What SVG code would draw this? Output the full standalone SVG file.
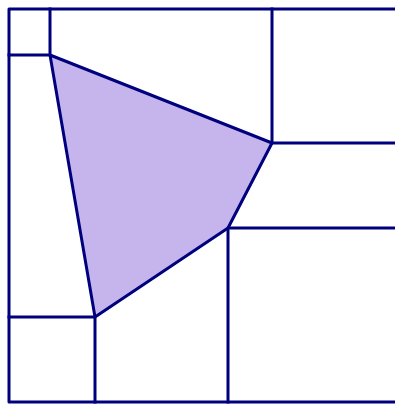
<svg xmlns="http://www.w3.org/2000/svg" width="395" height="405" viewBox="0 0 395 405">
<style>
.l{stroke:#00007f;stroke-width:3;fill:none;stroke-linecap:square;stroke-linejoin:round}
</style>
<rect width="395" height="405" fill="#fff"/>
<polygon points="50,55 272,143 228,228 95,317" fill="#c5b5ec" stroke="#00007f" stroke-width="3" stroke-linejoin="round"/>
<g class="l">
<path d="M400,9 H9 V402 H400"/>
<path d="M50,9 V55 H9"/>
<path d="M272,9 V143 H400"/>
<path d="M228,402 V228 H400"/>
<path d="M9,317 H95 V402"/>
</g>
</svg>
